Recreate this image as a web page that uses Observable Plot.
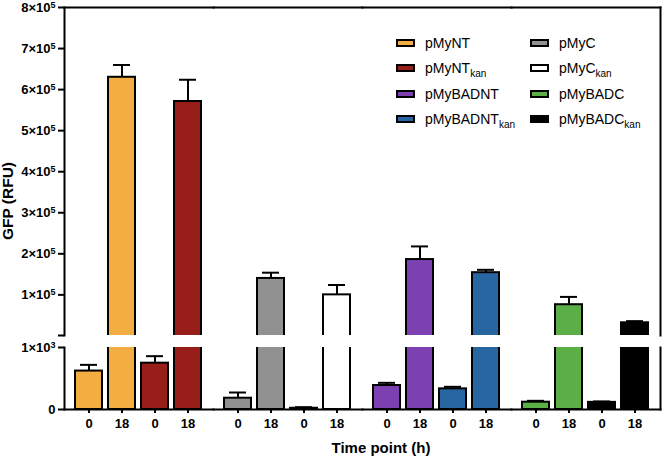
<!DOCTYPE html>
<html><head><meta charset="utf-8">
<script src="https://cdn.jsdelivr.net/npm/d3@7"></script>
<script src="https://cdn.jsdelivr.net/npm/@observablehq/plot@0.6"></script>
<style>
body{margin:0;background:#fff;font-family:"Liberation Sans",Arial,sans-serif;color:#000;}
#wrap{position:relative;width:664px;height:458px;overflow:hidden;}
#wrap svg{display:block;}
.legend{position:absolute;left:396px;top:30px;display:grid;grid-template-rows:repeat(4,25.5px);grid-auto-flow:column;grid-template-columns:134px 120px;font-size:14px;}
.item{display:flex;align-items:center;white-space:nowrap;}
.sw{width:15px;height:4px;border:2px solid #000;margin-right:10px;flex:none;}
.item sub{font-size:10px;vertical-align:-4px;line-height:0;}
.ylab{position:absolute;left:8px;top:201px;transform:translate(-50%,-50%) rotate(-90deg);font-weight:bold;font-size:15.5px;white-space:nowrap;}
.xlab{position:absolute;left:381px;top:447px;transform:translate(-50%,-50%);font-weight:bold;font-size:15px;white-space:nowrap;}
</style></head>
<body>
<div id="wrap"></div>
<script>
// ---- data ----
const strains = ["pMyNT","pMyNTkan","pMyC","pMyCkan","pMyBADNT","pMyBADNTkan","pMyBADC","pMyBADCkan"];
const groupOf = ["NT","NT","C","C","BADNT","BADNT","BADC","BADC"];
const groupOrder = ["NT","C","BADNT","BADC"];
const times = ["0","18"];
const mean0 = [620, 747, 182, 20, 387, 333, 118, 115];
const sd0   = [100, 113, 92, 17, 43, 33, 22, 15];
const mean18 = [630000, 571000, 140000, 100000, 186000, 154000, 76000, 32000];
const sd18   = [30000, 53000, 14000, 24000, 32000, 7000, 19000, 4000];
const colors = ["#F2AE40","#981E1A","#919191","#FFFFFF","#7D40B1","#2866A2","#5CAE46","#000000"];
const upperTicks = [100000,200000,300000,400000,500000,600000,700000,800000];
const lowerTicks = [0, 1000];
const upperDomain = [1000, 800000];
const lowerDomain = [0, 1000];
const legendOrder = ["pMyNT","pMyNTkan","pMyBADNT","pMyBADNTkan","pMyC","pMyCkan","pMyBADC","pMyBADCkan"];

const rows = strains.flatMap((s, i) => times.map((t, j) => ({
  strain: s, group: groupOf[i], slot: `${i % 2}-${t}`, time: t,
  mean: j ? mean18[i] : mean0[i], sd: j ? sd18[i] : sd0[i]
})));
const slots = ["0-0","0-18","1-0","1-18"];

function dataMarks(insetBottom, lo) {
  const data = rows.filter(d => d.mean + d.sd > lo);
  return [
    Plot.barY(data.filter(d => d.mean > lo), {fx: "group", x: "slot", y: "mean", fill: "strain", stroke: "#000", strokeWidth: 2, clip: true, insetBottom}),
    Plot.ruleX(data, {fx: "group", x: "slot", y1: "mean", y2: d => d.mean + d.sd, stroke: "#000", strokeWidth: 2, clip: true}),
    Plot.tickY(data, {fx: "group", x: "slot", y: d => d.mean + d.sd, stroke: "#000", strokeWidth: 2, insetLeft: 5, insetRight: 5, clip: true})
  ];
}
const common = {
  width: 664, marginLeft: 63, marginRight: 4,
  fx: {domain: groupOrder, padding: 0, axis: null, label: null},
  x: {domain: slots, paddingInner: 0.17, paddingOuter: 0.29, axis: null},
  color: {domain: strains, range: colors},
  style: {fontFamily: '"Liberation Sans", Arial, sans-serif', fontSize: "13px", fontWeight: "bold", color: "#000", background: "#fff", overflow: "visible"}
};
const supFmt = (v, e) => v === 0 ? "0" : `${v}×10^${e}`;

const upper = Plot.plot({
  ...common,
  height: 335, marginTop: 7, marginBottom: 0,
  y: {domain: upperDomain, axis: null},
  marks: [
    ...dataMarks(-4, upperDomain[0]),
    Plot.axisY({ticks: upperTicks, tickSize: 6, tickPadding: 3, strokeWidth: 2, tickFormat: d => supFmt(d / 100000, 5), label: null}),
    Plot.axisY({ticks: [upperDomain[0]], tickSize: 6, tickFormat: () => "", strokeWidth: 2, label: null}),
    Plot.frame({anchor: "left", facetAnchor: "left", strokeWidth: 2}),
    Plot.frame({anchor: "right", facetAnchor: "right", strokeWidth: 2}),
    Plot.frame({anchor: "top", strokeWidth: 2})
  ]
});

const lower = Plot.plot({
  ...common,
  height: 123, marginTop: 12, marginBottom: 49,
  y: {domain: lowerDomain, axis: null},
  marks: [
    ...dataMarks(0, -Infinity),
    Plot.axisY({ticks: lowerTicks, tickSize: 6, tickPadding: 3, strokeWidth: 2, tickFormat: d => supFmt(d / 1000, 3), label: null}),
    Plot.axisX({tickSize: 4, tickPadding: 5, strokeWidth: 2, tickFormat: s => s.split("-")[1], label: null}),
    Plot.frame({anchor: "left", facetAnchor: "left", strokeWidth: 2}),
    Plot.frame({anchor: "right", facetAnchor: "right", strokeWidth: 2}),
    Plot.frame({anchor: "bottom", strokeWidth: 2})
  ]
});

function superscripts(svg) {
  d3.select(svg).selectAll("text").each(function () {
    const t = this.textContent;
    if (t.includes("^")) {
      const [b, e] = t.split("^");
      this.textContent = b;
      d3.select(this).append("tspan").attr("font-size", "9px").attr("dy", "-0.42em").text(e);
    }
  });
}
superscripts(upper); superscripts(lower);

const wrap = document.getElementById("wrap");
wrap.append(upper, lower);

const legend = document.createElement("div");
legend.className = "legend";
legendOrder.forEach(name => {
  const i = strains.indexOf(name);
  const item = document.createElement("div");
  item.className = "item";
  const sw = document.createElement("span");
  sw.className = "sw"; sw.style.background = colors[i];
  const lab = document.createElement("span");
  const m = name.match(/^(.*?)(kan)?$/);
  lab.textContent = m[1];
  if (m[2]) { const sub = document.createElement("sub"); sub.textContent = m[2]; lab.append(sub); }
  item.append(sw, lab);
  legend.append(item);
});
wrap.append(legend);

const ylab = document.createElement("div");
ylab.className = "ylab"; ylab.textContent = "GFP (RFU)";
const xlab = document.createElement("div");
xlab.className = "xlab"; xlab.textContent = "Time point (h)";
wrap.append(ylab, xlab);
</script>
</body></html>
